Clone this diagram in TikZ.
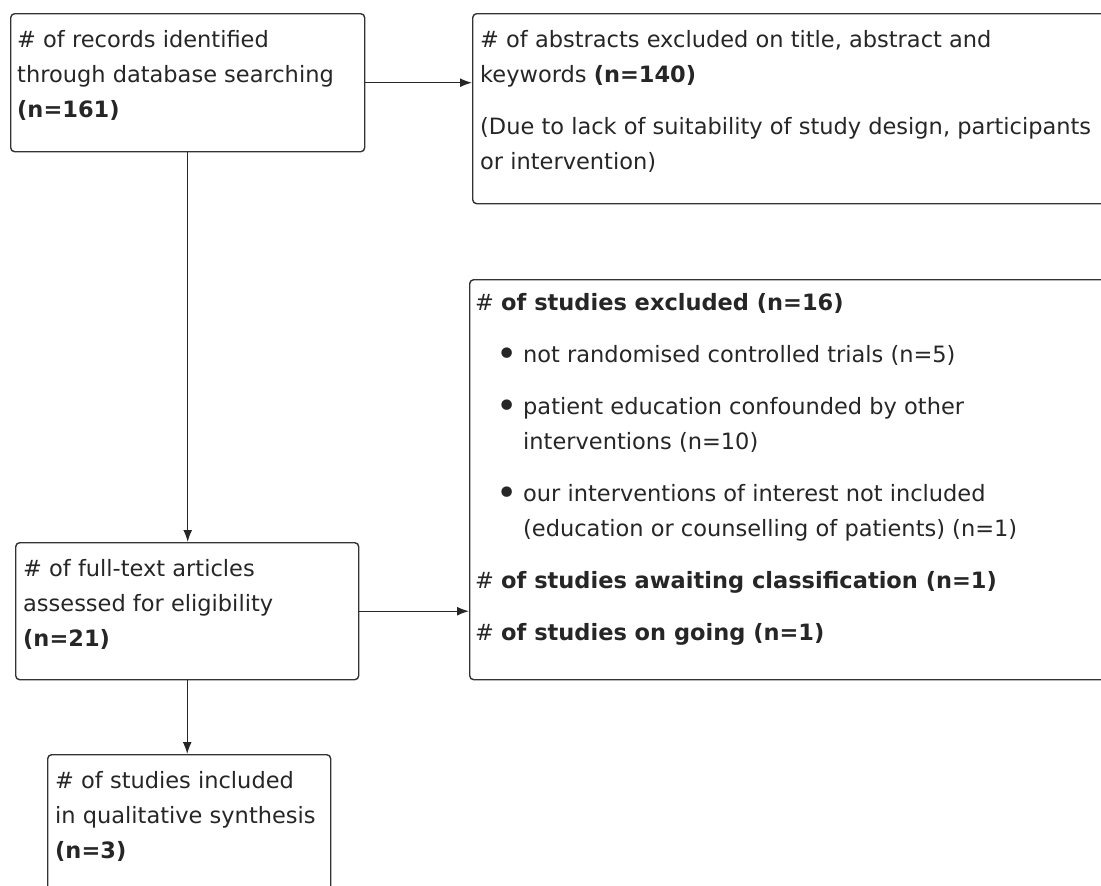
\documentclass[tikz,border=0pt]{standalone}
\usepackage{fontspec}
\setmainfont{DejaVu Sans}
\usetikzlibrary{arrows.meta}
\tikzset{
  box/.style={draw=black!80, line width=1.4pt, rounded corners=4pt, anchor=north west, inner sep=0pt},
  txt/.style={anchor=north west, inner sep=0pt, align=left, text=black!85, font=\fontsize{22.5}{35}\selectfont},
  arr/.style={-{Latex[length=12pt,width=9pt]}, line width=1.4pt, draw=black!85},
}
\newcommand{\bul}{\hspace*{48pt}\llap{\raisebox{-4.5pt}{\scalebox{1.6}{\textbullet}}\hspace{5pt}}}
\newcommand{\ind}{\hspace*{48pt}}
\begin{document}
\begin{tikzpicture}[x=1pt,y=-1pt]
\useasboundingbox (0,0) rectangle (1101,886);
% boxes
\node[box, minimum width=354pt, minimum height=138pt] (rec) at (10,13) {};
\node[box, minimum width=640pt, minimum height=190pt] (abs) at (472,13) {};
\node[box, minimum width=343pt, minimum height=137pt] (full) at (15,542) {};
\node[box, minimum width=640pt, minimum height=400pt] (excl) at (469,279) {};
\node[box, minimum width=283pt, minimum height=150pt] (incl) at (47,754) {};
% texts
\node[txt] (rectxt) at ([shift={(7pt,-17pt)}]rec.north west)
  {\# of records identified\\ through database searching\\ \textbf{(n=161)}};
\node[txt] (abstxt) at ([shift={(8pt,-17pt)}]abs.north west)
  {\# of abstracts excluded on title, abstract and\\ keywords \textbf{(n=140)}\\[17pt]
   (Due to lack of suitability of study design, participants\\ or intervention)};
\node[txt] (fulltxt) at ([shift={(8pt,-17pt)}]full.north west)
  {\# of full-text articles\\ assessed for eligibility\\ \textbf{(n=21)}};
\node[txt] (excltxt) at ([shift={(6pt,-14pt)}]excl.north west)
  {\# \textbf{of studies excluded (n=16)}\\[17pt]
   \bul not randomised controlled trials (n=5)\\[17pt]
   \bul patient education confounded by other\\
   \ind interventions (n=10)\\[17pt]
   \bul our interventions of interest not included\\
   \ind (education or counselling of patients) (n=1)\\[17pt]
   \# \textbf{of studies awaiting classification (n=1)}\\[17pt]
   \# \textbf{of studies on going (n=1)}};
\node[txt] (incltxt) at ([shift={(8pt,-17pt)}]incl.north west)
  {\# of studies included\\ in qualitative synthesis\\ \textbf{(n=3)}};
% connectors
\draw[arr] (rec.east) -- (rec.east -| abs.west);
\draw[arr] (rec.south) -- (rec.south |- full.north);
\draw[arr] (full.east) -- (full.east -| excl.west);
\draw[arr] (full.south) -- (full.south |- incl.north);
\end{tikzpicture}
\end{document}
